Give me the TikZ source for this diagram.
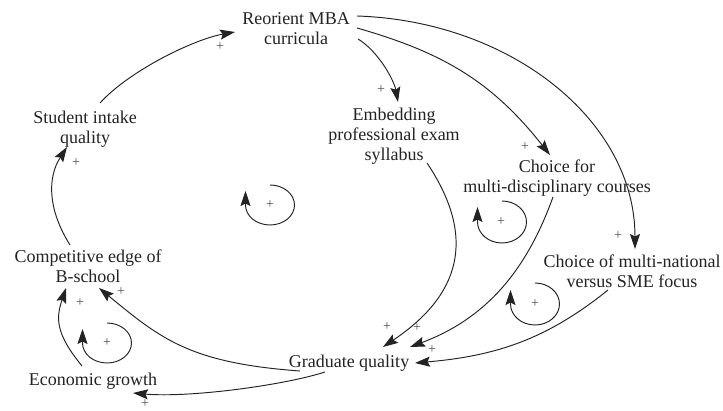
\documentclass[tikz,border=0pt]{standalone}
\usepackage{fontspec}
\setmainfont{Liberation Serif}
\usetikzlibrary{arrows.meta}
\definecolor{ink}{RGB}{35,35,35}
\definecolor{signink}{RGB}{80,80,80}
\begin{document}
\begin{tikzpicture}[x=1pt,y=-1pt,
  var/.style={align=center, inner sep=0pt, text=ink, font=\fontsize{18}{20}\selectfont},
  sign/.style={inner sep=0pt, text=signink, font=\fontsize{14}{14}\selectfont},
  link/.style={draw=ink, line width=0.95pt, -{Stealth[length=15pt,width=10pt,inset=2.5pt]}}]
\useasboundingbox[fill=white] (0,0) rectangle (723,411);

% variables
\node[var] (reo) at (296,29)  {Reorient MBA\\curricula};
\node[var] (stu) at (85,129)  {Student intake\\quality};
\node[var] (emb) at (394,136) {Embedding\\professional exam\\syllabus};
\node[var] (mdc) at (557,178) {Choice for\\multi-disciplinary courses};
\node[var] (mnt) at (632,271) {Choice of multi-national\\versus SME focus};
\node[var] (cmp) at (88,266)  {Competitive edge of\\B-school};
\node[var] (grd) at (349,363) {Graduate quality};
\node[var] (eco) at (93,381)  {Economic growth};

% causal links
\draw[link] ([shift={(15,-26)}]stu.center) .. controls +(30,-33) and +(-40,7) .. ([shift={(-61,3)}]reo.center);
\draw[link] ([shift={(-18,-21)}]cmp.center) .. controls +(-22,-35) and +(-20,31) .. ([shift={(-18,18)}]stu.center);
\draw[link] ([shift={(62,10)}]reo.center) .. controls +(20,12) and +(-4,-22) .. ([shift={(4,-34)}]emb.center);
\draw[link] ([shift={(61,-1)}]reo.center) .. controls +(88,25) and +(-57,-72) .. ([shift={(-7,-23)}]mdc.center);
\draw[link] ([shift={(61,-13)}]reo.center) .. controls +(153,5) and +(0,-129) .. ([shift={(3,-22)}]mnt.center);
\draw[link] ([shift={(33,27)}]emb.center) .. controls +(51,76) and +(76,-51) .. ([shift={(34,-16)}]grd.center);
\draw[link] ([shift={(-4,19)}]mdc.center) .. controls +(-27,75) and +(75,-28) .. ([shift={(61,-16)}]grd.center);
\draw[link] ([shift={(-24,19)}]mnt.center) .. controls +(-62,50) and +(80,-7) .. ([shift={(66,0)}]grd.center);
\draw[link] ([shift={(-49,8)}]grd.center) .. controls +(-110,-8) and +(62,51) .. ([shift={(11,22)}]cmp.center);
\draw[link] ([shift={(-24,9)}]grd.center) .. controls +(-40,13) and +(57,5) .. ([shift={(40,12)}]eco.center);
\draw[link] ([shift={(-11,-15)}]eco.center) .. controls +(-27,-33) and +(-10,30) .. ([shift={(-22,22)}]cmp.center);

% polarity signs
\node[sign] (s1)  at (220,47)  {+};
\node[sign] (s2)  at (76,163)  {+};
\node[sign] (s3)  at (381,90)  {+};
\node[sign] (s4)  at (525,147) {+};
\node[sign] (s5)  at (618,236) {+};
\node[sign] (s6)  at (387,327) {+};
\node[sign] (s7)  at (417,328) {+};
\node[sign] (s8)  at (432,350) {+};
\node[sign] (s9)  at (121,292) {+};
\node[sign] (s10) at (145,404) {+};
\node[sign] (s11) at (80,303)  {+};

% reinforcing loop markers
\node[sign] (r1) at (270,205) {+};
\node[sign] (r2) at (107,343) {+};
\node[sign] (r3) at (501,222) {+};
\node[sign] (r4) at (535,304) {+};
\draw[link] ([shift={(0,-20)}]r1.center) arc[start angle=-90, end angle=180, x radius=24.5, y radius=20] -- ++(0,-14);
\draw[link] ([shift={(0,-20)}]r2.center) arc[start angle=-90, end angle=180, x radius=24.5, y radius=20] -- ++(0,-14);
\draw[link] ([shift={(1,-21)}]r3.center) arc[start angle=-90, end angle=180, x radius=24.5, y radius=21] -- ++(0,-15);
\draw[link] ([shift={(0,-21)}]r4.center) arc[start angle=-90, end angle=180, x radius=24.5, y radius=21] -- ++(0,-14);
\end{tikzpicture}
\end{document}
